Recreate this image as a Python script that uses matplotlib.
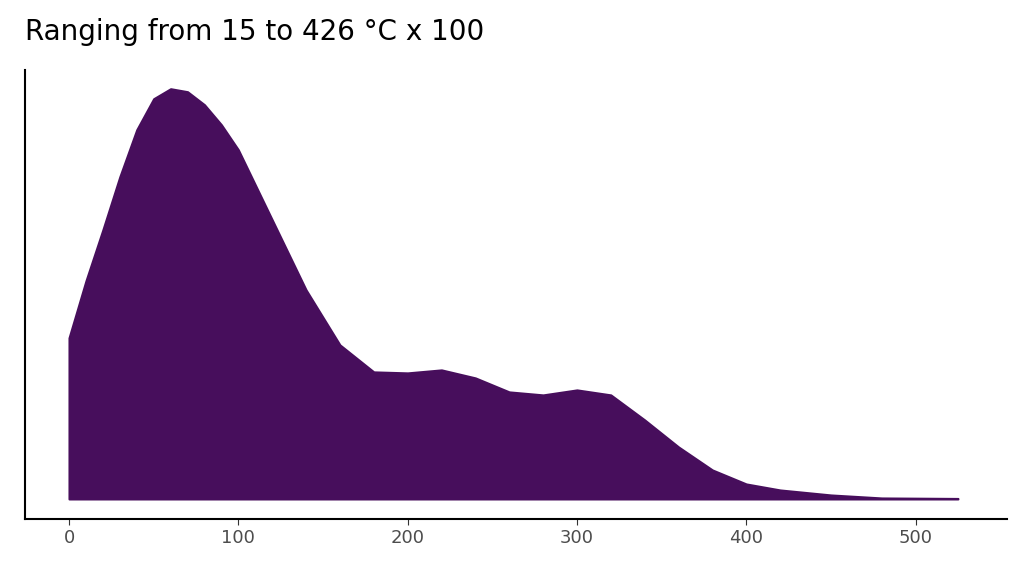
import matplotlib
matplotlib.use("Agg")
import matplotlib.pyplot as plt

x_vals = [0, 10, 20, 30, 40, 50, 60, 70, 80, 90, 100, 120, 140, 160, 180, 200, 220, 240, 260, 280, 300, 320, 340, 360, 380, 400, 420, 450, 480, 525]
density = [161, 218, 269, 322, 369, 400, 410, 407, 394, 374, 349, 279, 209, 154, 127, 126, 129, 121, 107, 104, 109, 104, 79, 52, 29, 15, 9, 4, 1, 0.5]
title = "Ranging from 15 to 426 °C x 100"
xticks = [0, 100, 200, 300, 400, 500]

fig = plt.figure(figsize=(10.24, 5.76), dpi=100)
ax = fig.add_axes([0.0244, 0.099, 0.959, 0.78])
ax.fill_between(x_vals, 0, density, color="#470E5C", linewidth=1.5, edgecolor="#470E5C")
ax.set_xlim(-26, 554)
ax.set_ylim(-20, 429)
ax.set_xticks(xticks)
ax.set_xticklabels([str(t) for t in xticks], fontsize=13, color="#4D4D4D")
ax.set_yticks([])
for s in ["top", "right"]:
    ax.spines[s].set_visible(False)
ax.spines["left"].set_linewidth(1.5)
ax.spines["bottom"].set_linewidth(1.5)
ax.tick_params(axis="x", length=4, color="#333333")
fig.text(0.024, 0.92, title, fontsize=20, ha="left", va="bottom")
fig.savefig("out.png", dpi=100)
